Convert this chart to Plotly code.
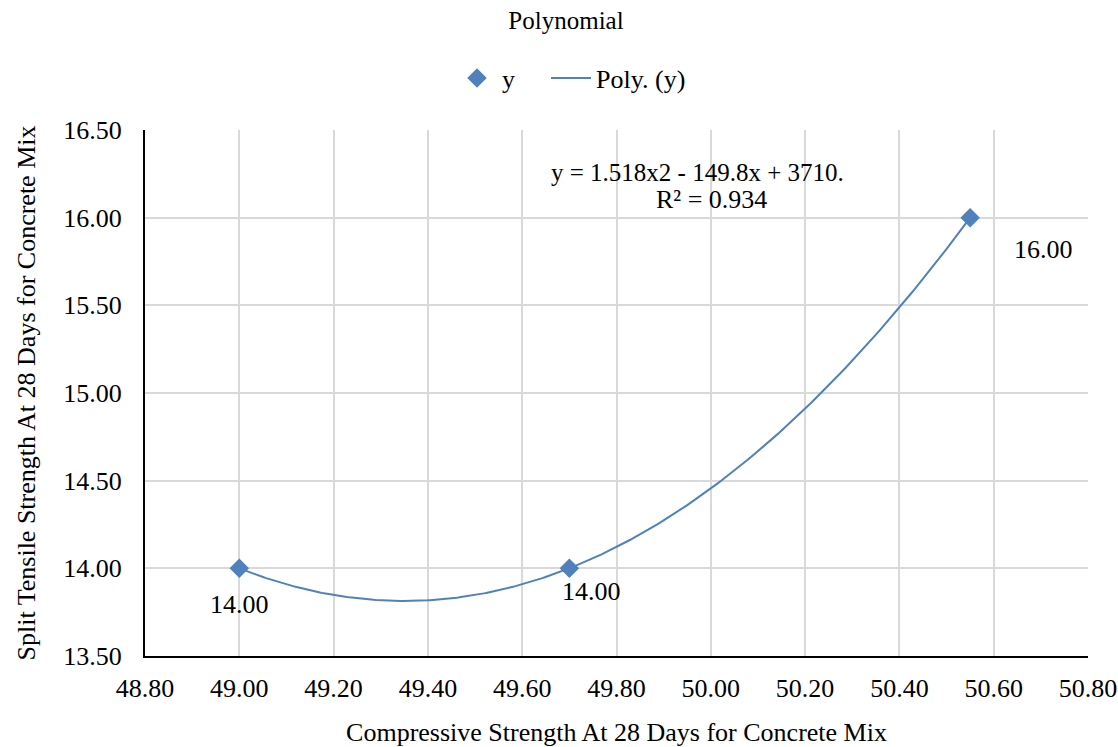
import numpy as np
import plotly.graph_objects as go

# Data
x_vals = [49.00, 49.70, 50.55]
y_vals = [14.00, 14.00, 16.00]
point_labels = ["14.00", "14.00", "16.00"]
x_ticks = [48.8, 49.0, 49.2, 49.4, 49.6, 49.8, 50.0, 50.2, 50.4, 50.6, 50.8]
y_ticks = [13.5, 14.0, 14.5, 15.0, 15.5, 16.0, 16.5]
equation_line1 = "y = 1.518x2 - 149.8x + 3710."
equation_line2 = "R² = 0.934"

FONT = "Liberation Serif"
BLUE = "#4F81BD"
GRID = "#D9D9D9"

W, H = 1118, 747

# Polynomial trendline (order 2) fitted from the data
coef = np.polyfit(x_vals, y_vals, 2)
xs = np.linspace(min(x_vals), max(x_vals), 300)
ys = np.polyval(coef, xs)

fig = go.Figure()
fig.add_trace(go.Scatter(
    x=x_vals, y=y_vals, mode="markers", name="y\u2003",
    marker=dict(symbol="diamond", size=15, color=BLUE),
))
fig.add_trace(go.Scatter(
    x=xs, y=ys, mode="lines", name="Poly. (y)",
    line=dict(color=BLUE, width=2),
))

# Data labels
shifts = [(0, -36), (22, -23), (73, -32)]
for xv, yv, lab, (dx, dy) in zip(x_vals, y_vals, point_labels, shifts):
    fig.add_annotation(x=xv, y=yv, text=lab, showarrow=False,
                       xshift=dx, yshift=dy, xanchor="center", yanchor="middle",
                       font=dict(family=FONT, size=26, color="black"))

# Trendline equation
fig.add_annotation(xref="paper", yref="paper", x=0.586, y=0.920,
                   text=equation_line1, showarrow=False,
                   xanchor="center", yanchor="middle",
                   font=dict(family=FONT, size=25, color="black"))
fig.add_annotation(xref="paper", yref="paper", x=0.601, y=0.867,
                   text=equation_line2, showarrow=False,
                   xanchor="center", yanchor="middle",
                   font=dict(family=FONT, size=26, color="black"))

fig.update_layout(
    template="none",
    width=W, height=H,
    margin=dict(l=145, r=30, t=130, b=91, pad=0),
    paper_bgcolor="white", plot_bgcolor="white",
    font=dict(family=FONT, size=26, color="black"),
    title=dict(text="Polynomial", x=566 / W, xref="container", xanchor="center",
               y=1 - 20 / H, yref="container", yanchor="middle",
               font=dict(family=FONT, size=25, color="black")),
    legend=dict(orientation="h", x=452 / W, xref="container", xanchor="left",
                y=1 - 78 / H, yref="container", yanchor="middle",
                font=dict(family=FONT, size=26, color="black"),
                bgcolor="rgba(0,0,0,0)", itemwidth=40),
    showlegend=True,
)

fig.update_xaxes(
    range=[48.8, 50.8], tickvals=x_ticks,
    ticktext=[f"{v:.2f}" for v in x_ticks],
    showgrid=True, gridcolor=GRID, gridwidth=2,
    showline=True, linecolor="black", linewidth=2,
    zeroline=False, ticks="", ticklabelstandoff=8, automargin=False,
    tickfont=dict(family=FONT, size=26, color="black"),
    title=dict(text="Compressive Strength At 28 Days for Concrete Mix",
               font=dict(family=FONT, size=26, color="black"), standoff=24),
)
fig.update_yaxes(
    range=[13.5, 16.5], tickvals=y_ticks,
    ticktext=[f"{v:.2f}" for v in y_ticks],
    showgrid=True, gridcolor=GRID, gridwidth=2,
    showline=True, linecolor="black", linewidth=2,
    zeroline=False, ticks="", ticklabelstandoff=16, automargin=False,
    tickfont=dict(family=FONT, size=26, color="black"),
    title=dict(text="Split Tensile Strength At 28 Days for Concrete Mix",
               font=dict(family=FONT, size=26, color="black"), standoff=20),
)

fig.write_html("out.html",
               config={"displayModeBar": False},
               post_script="document.body.style.margin='0';"
                           "document.body.style.overflow='hidden';")
